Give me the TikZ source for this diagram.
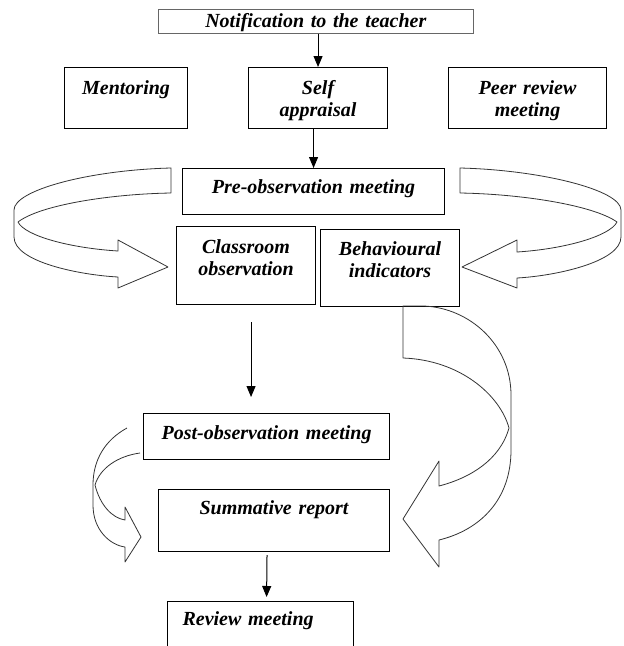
\documentclass[tikz,border=0pt]{standalone}
\usepackage{fontspec}
\setmainfont{Liberation Serif}
\usepackage{tikz}
\usetikzlibrary{arrows.meta}
\usetikzlibrary{positioning}

\begin{document}
\begin{tikzpicture}[x=1pt, y=-1pt, >={Triangle[length=11pt,width=9pt]},
  bloc/.style={draw, line width=1.1pt, anchor=north west, inner sep=0pt, align=center,
    font=\fontsize{20}{22}\selectfont\bfseries\itshape},
  ruban/.style={draw=black!80, line width=0.8pt, line join=round}]
  \useasboundingbox[fill=white] (0,0) rectangle (624,646);
  \node[bloc, line width=0.6pt, draw=black!60, text width=315pt, text height=18pt, text depth=6pt] (Notif) at (158,9) {Notification to the teacher};
  \node[bloc, text width=123pt, text height=27pt, text depth=34pt] (Mentor) at (64,67) {Mentoring};
  \node[bloc, text width=139pt, text height=27pt, text depth=34pt] (Self) at (248,67) {Self\\appraisal};
  \node[bloc, text width=158pt, text height=27pt, text depth=34pt] (Peer) at (448,67) {Peer review\\meeting};
  \node[bloc, text width=262pt, text height=25pt, text depth=21pt] (PreObs) at (182,168) {Pre-observation meeting};
  \node[bloc, text width=139pt, text height=27pt, text depth=51pt] (Class) at (176,226) {Classroom\\observation};
  \node[bloc, text width=139pt, text height=26pt, text depth=51pt] (Behav) at (320,229) {Behavioural\\indicators};
  \node[bloc, text width=246pt, text height=26pt, text depth=20pt] (PostObs) at (143,413) {Post-observation meeting};
  \node[bloc, text width=231pt, text height=25pt, text depth=37pt] (Summ) at (158,489) {Summative report};
  \node[bloc, align=left, inner xsep=15pt, text width=156pt, text height=24pt, text depth=40pt] (Review) at (167,601) {Review meeting};
  \draw[->, line width=1pt] (Self.north |- Notif.south) -- (Self.north);
  \draw[->, line width=1pt] (Self.south -| PreObs.north) -- (PreObs.north);
  \draw[->, line width=1pt, shorten <=17pt, shorten >=16pt] ([xshift=5pt]Class.south) -- ([xshift=5pt]Class.south |- PostObs.north);
  \draw[->, line width=1pt, shorten <=3pt, shorten >=4pt] ([xshift=-7pt]Summ.south) -- ([xshift=6pt]Review.north);
  \draw[ruban] (171,168) -- (171,193) .. controls (110,194) and (40,205) .. (18,222)
    .. controls (25,236) and (70,248) .. (118,251) -- (118,240) -- (168,267) -- (118,288) -- (118,277)
    .. controls (80,275) and (14,262) .. (14,237) -- (14,210) .. controls (14,190) and (90,170) .. cycle;
  \draw[ruban] (460,168) -- (460,193) .. controls (521,194) and (593,205) .. (617,222)
    .. controls (610,236) and (565,249) .. (517,252) -- (517,240) -- (462,267) -- (517,288) -- (517,278)
    .. controls (555,276) and (621,262) .. (621,237) -- (621,210) .. controls (621,190) and (541,170) .. cycle;
  \draw[ruban] (403,306) -- (403,358) .. controls (460,360) and (500,395) .. (509,428)
    .. controls (500,460) and (470,478) .. (439,486) -- (439,461) -- (403,519) -- (439,567) -- (439,540)
    .. controls (480,530) and (511,500) .. (511,450) -- (511,395) .. controls (511,345) and (470,308) .. (424,306) -- cycle;
  \draw[ruban] (127,428) .. controls (105,440) and (93,460) .. (93,485) -- (93,505)
    .. controls (93,530) and (110,545) .. (125,547) -- (125,562) -- (141,537) -- (125,507) -- (125,520)
    .. controls (112,518) and (100,505) .. (95,485) .. controls (100,468) and (118,456) .. (140,453);
\end{tikzpicture}
\end{document}
